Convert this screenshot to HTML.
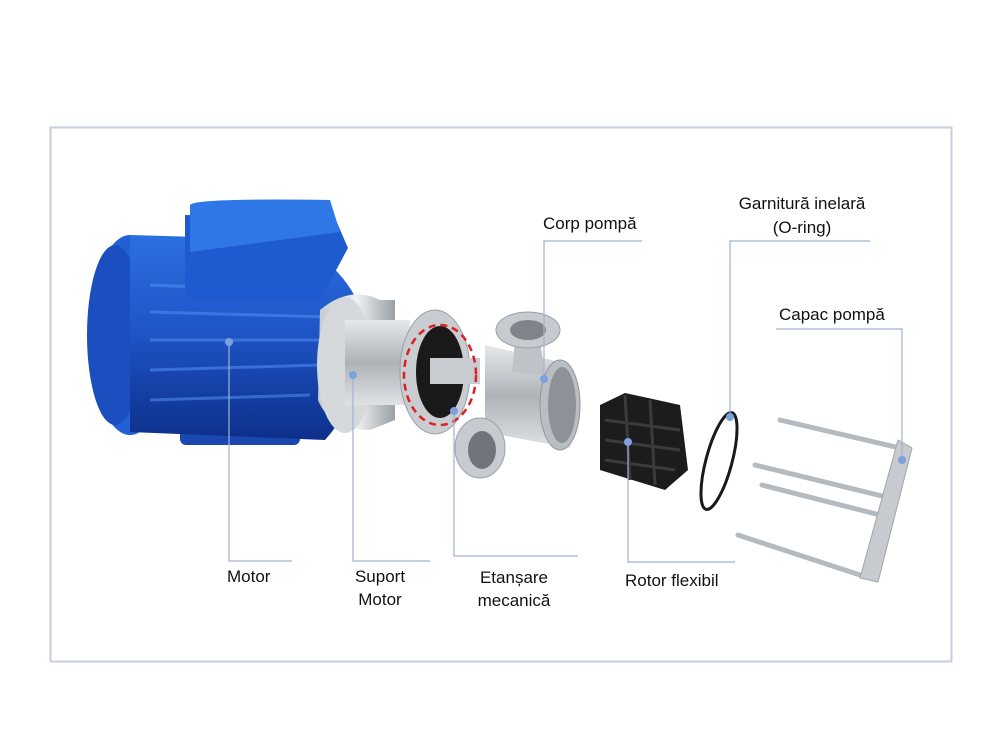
<!DOCTYPE html>
<html><head><meta charset="utf-8"><style>
html,body{margin:0;padding:0;background:#fff;}
svg{display:block}
text{font-family:"Liberation Sans",sans-serif;font-size:17px;fill:#111}
</style></head><body>
<svg width="1000" height="750" viewBox="0 0 1000 750">
<defs>
<linearGradient id="blue" x1="0" y1="0" x2="0" y2="1">
<stop offset="0" stop-color="#2b6fe0"/><stop offset="0.45" stop-color="#1f56c8"/><stop offset="1" stop-color="#0d2f8a"/></linearGradient>
<linearGradient id="steel" x1="0" y1="0" x2="0" y2="1">
<stop offset="0" stop-color="#e6e8ea"/><stop offset="0.5" stop-color="#aeb3b8"/><stop offset="1" stop-color="#dfe2e5"/></linearGradient>
<linearGradient id="steelx" x1="0" y1="0" x2="1" y2="0">
<stop offset="0" stop-color="#c5c9cd"/><stop offset="0.5" stop-color="#f0f1f2"/><stop offset="1" stop-color="#9aa0a6"/></linearGradient>
</defs>
<rect x="50.5" y="127.5" width="901" height="534" fill="#fff" stroke="#c7cedf" stroke-width="2"/>
<!-- motor -->
<rect x="180" y="390" width="120" height="55" rx="6" fill="#1a47b0"/>
<ellipse cx="130" cy="335" rx="40" ry="100" fill="#2160d6"/>
<ellipse cx="115" cy="335" rx="28" ry="90" fill="#1b4fbf"/>
<path d="M130 235 L300 240 Q365 285 365 335 Q365 395 325 440 L130 432 Z" fill="url(#blue)"/>
<g stroke="#4d8bf0" stroke-width="3" opacity="0.6">
<line x1="150" y1="285" x2="320" y2="292"/><line x1="150" y1="312" x2="330" y2="317"/><line x1="150" y1="340" x2="330" y2="340"/><line x1="150" y1="370" x2="320" y2="365"/><line x1="150" y1="400" x2="310" y2="395"/>
</g>
<path d="M185 215 L335 218 L348 248 L320 300 L185 300 Z" fill="#1e5ad0"/>
<path d="M190 205 Q195 198 330 200 L340 232 L190 252 Z" fill="#2f76e6"/>
<!-- suport motor -->
<path d="M320 310 Q350 285 380 300 L395 300 L395 420 L370 430 Q330 430 318 400 Z" fill="url(#steelx)"/>
<ellipse cx="345" cy="365" rx="28" ry="68" fill="#d6d9dc"/>
<rect x="345" y="320" width="65" height="85" fill="url(#steel)"/>
<!-- flange -->
<ellipse cx="435" cy="372" rx="35" ry="62" fill="#c9ccd0" stroke="#9aa0a6"/>
<ellipse cx="440" cy="372" rx="24" ry="46" fill="#1a1a1a"/>
<rect x="430" y="358" width="50" height="26" fill="#c8ccd0"/>
<ellipse cx="440" cy="375" rx="36" ry="50" fill="none" stroke="#e02020" stroke-width="2.5" stroke-dasharray="7 5"/>
<!-- corp pompa -->
<path d="M485 345 L560 362 L570 448 L485 432 Z" fill="url(#steel)"/>
<ellipse cx="560" cy="405" rx="20" ry="45" fill="#b9bec3" stroke="#8f959b"/>
<ellipse cx="562" cy="405" rx="14" ry="38" fill="#8c9298"/>
<path d="M515 340 L540 340 L545 375 L512 372 Z" fill="#bfc3c8"/>
<ellipse cx="528" cy="330" rx="32" ry="18" fill="#c7cbcf" stroke="#9aa0a6"/>
<ellipse cx="528" cy="330" rx="18" ry="10" fill="#7e848a"/>
<ellipse cx="480" cy="448" rx="25" ry="30" fill="#c7cbcf" stroke="#9aa0a6"/>
<ellipse cx="482" cy="450" rx="14" ry="19" fill="#6f757b"/>
<!-- rotor -->
<path d="M600 405 L625 393 L680 405 L688 470 L665 490 L600 470 Z" fill="#1c1c1c"/>
<g stroke="#3b3b3b" stroke-width="3"><line x1="605" y1="420" x2="680" y2="430"/><line x1="605" y1="440" x2="680" y2="450"/><line x1="605" y1="460" x2="675" y2="470"/><line x1="625" y1="395" x2="630" y2="480"/><line x1="650" y1="400" x2="655" y2="485"/></g>
<!-- o-ring -->
<ellipse cx="719" cy="461" rx="13" ry="50" transform="rotate(15 719 461)" fill="none" stroke="#1a1a1a" stroke-width="3"/>
<!-- capac -->
<g stroke="#b5babf" stroke-width="5" stroke-linecap="round">
<line x1="780" y1="420" x2="900" y2="448"/><line x1="755" y1="465" x2="890" y2="498"/><line x1="762" y1="485" x2="880" y2="515"/><line x1="738" y1="535" x2="860" y2="575"/>
</g>
<path d="M898 440 L912 448 L878 582 L860 578 Z" fill="#c7cbcf" stroke="#a0a6ac"/>
<!-- leader lines -->
<g stroke="#9fb2d6" stroke-width="1.2" fill="none">
<polyline points="229,342 229,561 292,561"/>
<polyline points="353,375 353,561 430,561"/>
<polyline points="454,411 454,556 578,556"/>
<polyline points="642,241 544,241 544,379"/>
<polyline points="870,241 730,241 730,417"/>
<polyline points="776,329 902,329 902,460"/>
<polyline points="628,442 628,562 735,562"/>
</g>
<g fill="#7ea0dc">
<circle cx="229" cy="342" r="4"/><circle cx="353" cy="375" r="4"/><circle cx="454" cy="411" r="4"/><circle cx="544" cy="379" r="4"/><circle cx="730" cy="417" r="4"/><circle cx="902" cy="460" r="4"/><circle cx="628" cy="442" r="4"/>
</g>
<text x="227" y="582">Motor</text>
<text x="380" y="582" text-anchor="middle">Suport</text>
<text x="380" y="605" text-anchor="middle">Motor</text>
<text x="514" y="583" text-anchor="middle">Etanșare</text>
<text x="514" y="606" text-anchor="middle">mecanică</text>
<text x="625" y="586">Rotor flexibil</text>
<text x="543" y="229">Corp pompă</text>
<text x="802" y="209" text-anchor="middle">Garnitură inelară</text>
<text x="802" y="233" text-anchor="middle">(O-ring)</text>
<text x="779" y="320">Capac pompă</text>
</svg>
</body></html>
